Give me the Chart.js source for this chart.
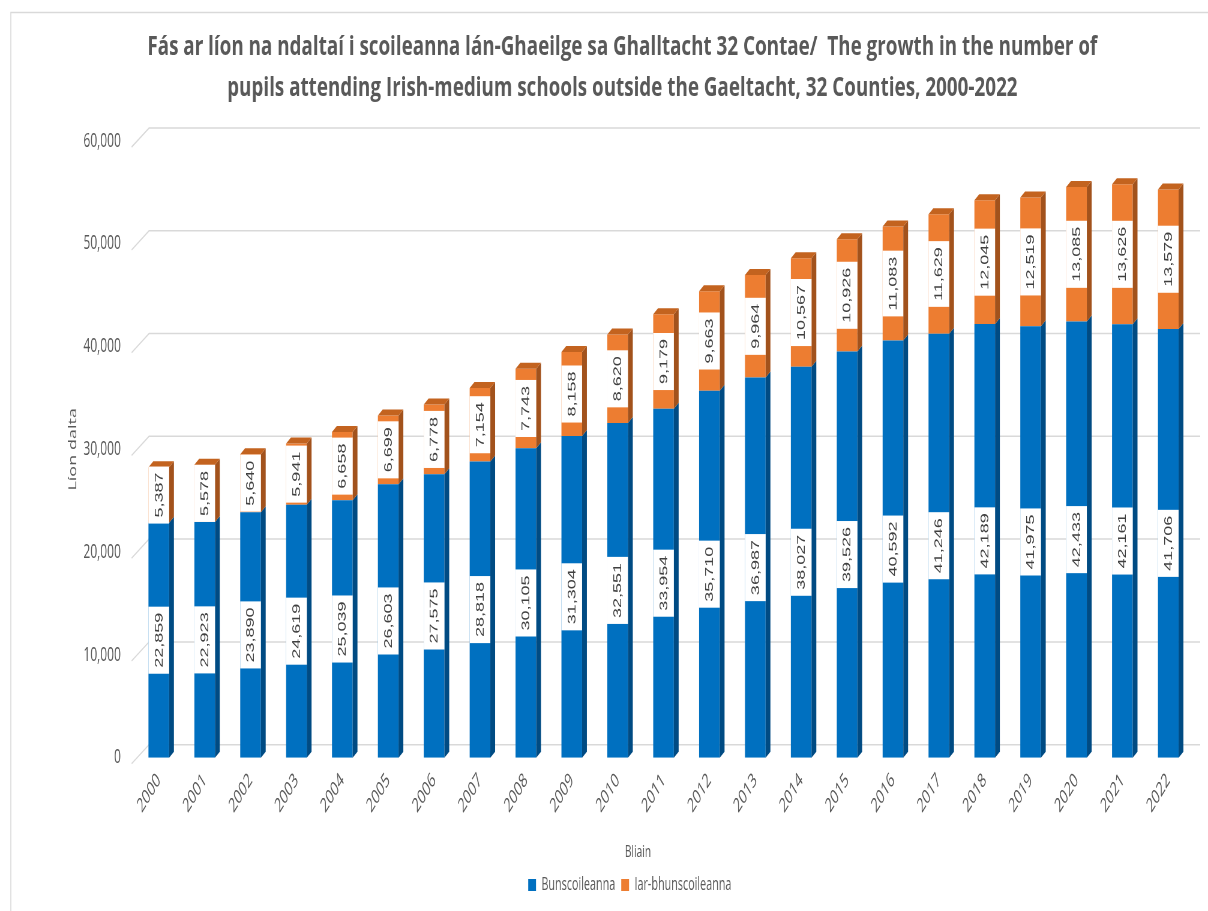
<!DOCTYPE html>
<html>
<head>
<meta charset="utf-8">
<script src="https://cdn.jsdelivr.net/npm/chart.js@4.4.0/dist/chart.umd.min.js"></script>
<style>
html, body { margin: 0; padding: 0; background: #fff; overflow: hidden; }
canvas { display: block; }
</style>
</head>
<body>
<canvas id="chart"></canvas>
<script>
var years = ['2000', '2001', '2002', '2003', '2004', '2005', '2006', '2007', '2008', '2009', '2010', '2011',
             '2012', '2013', '2014', '2015', '2016', '2017', '2018', '2019', '2020', '2021', '2022'];
var primary = [22859, 22923, 23890, 24619, 25039, 26603, 27575, 28818, 30105, 31304, 32551, 33954,
               35710, 36987, 38027, 39526, 40592, 41246, 42189, 41975, 42433, 42161, 41706];
var postPrimary = [5387, 5578, 5640, 5941, 6658, 6699, 6778, 7154, 7743, 8158, 8620, 9179,
                   9663, 9964, 10567, 10926, 11083, 11629, 12045, 12519, 13085, 13626, 13579];
var seriesNames = ['Bunscoileanna', 'Iar-bhunscoileanna'];
var yTicks = [0, 10000, 20000, 30000, 40000, 50000, 60000];
var titleLines = [
    'Fás ar líon na ndaltaí i scoileanna lán-Ghaeilge sa Ghalltacht 32 Contae/  The growth in the number of',
    'pupils attending Irish-medium schools outside the Gaeltacht, 32 Counties, 2000-2022'
];
var xTitle = 'Bliain';
var yTitle = 'Líon dalta';

var textGrey = '#595959';
var frontColors = ['#0070c0', '#ed7d31'];
var sideColors = ['#004b83', '#a2521c'];
var topColor = '#c3631f';

// the original picture is squashed sideways, so draw wide and shrink it with css
var squeeze = 0.6;
var canvas = document.getElementById('chart');
canvas.width = Math.round(1208 / squeeze);
canvas.height = 911;
canvas.style.width = '1208px';
canvas.style.height = '911px';

var depthX = 8, depthY = 6;

var framePlugin = {
    id: 'frame',
    beforeDraw: function(chart) {
        var ctx = chart.ctx;
        ctx.save();
        ctx.strokeStyle = '#d9d9d9';
        ctx.lineWidth = 1.6;
        ctx.beginPath();
        ctx.moveTo(18, chart.height);
        ctx.lineTo(18, 12.5);
        ctx.lineTo(chart.width, 12.5);
        ctx.stroke();
        ctx.restore();
    }
};

// gridlines sit on the back wall, a little up and to the right
var wallPlugin = {
    id: 'wall',
    beforeDatasetsDraw: function(chart) {
        var ctx = chart.ctx;
        var area = chart.chartArea;
        var yScale = chart.scales.y;
        ctx.save();
        ctx.strokeStyle = '#d9d9d9';
        ctx.lineWidth = 1.5;
        yTicks.forEach(function(v) {
            var py = yScale.getPixelForValue(v);
            ctx.beginPath();
            ctx.moveTo(area.left - 7, py + 6);
            ctx.lineTo(area.left + 22, py - 13);
            ctx.lineTo(area.right + 15, py - 13);
            ctx.stroke();
        });
        ctx.restore();
    }
};

var depthPlugin = {
    id: 'depth',
    afterDatasetsDraw: function(chart) {
        var ctx = chart.ctx;
        var last = chart.data.datasets.length - 1;
        ctx.save();
        chart.data.datasets.forEach(function(ds, di) {
            chart.getDatasetMeta(di).data.forEach(function(bar) {
                var p = bar.getProps(['x', 'y', 'base', 'width'], true);
                var l = p.x - p.width / 2, r = p.x + p.width / 2;
                ctx.fillStyle = sideColors[di];
                ctx.beginPath();
                ctx.moveTo(r, p.base);
                ctx.lineTo(r + depthX, p.base - depthY);
                ctx.lineTo(r + depthX, p.y - depthY);
                ctx.lineTo(r, p.y);
                ctx.closePath();
                ctx.fill();
                if (di === last) {
                    ctx.fillStyle = topColor;
                    ctx.beginPath();
                    ctx.moveTo(l, p.y);
                    ctx.lineTo(l + depthX, p.y - depthY);
                    ctx.lineTo(r + depthX, p.y - depthY);
                    ctx.lineTo(r, p.y);
                    ctx.closePath();
                    ctx.fill();
                }
            });
        });

        // value labels: white box, text turned on its side
        ctx.font = '18px "Liberation Sans", Arial, sans-serif';
        ctx.textAlign = 'center';
        ctx.textBaseline = 'middle';
        chart.data.datasets.forEach(function(ds, di) {
            chart.getDatasetMeta(di).data.forEach(function(bar, i) {
                var p = bar.getProps(['x', 'y', 'base', 'width'], true);
                var text = ds.data[i].toLocaleString('en-US');
                var len = ctx.measureText(text).width + 12;
                ctx.save();
                ctx.translate(p.x, (p.y + p.base) / 2);
                ctx.rotate(-Math.PI / 2);
                ctx.fillStyle = '#ffffff';
                ctx.fillRect(-len / 2, -p.width / 2, len, p.width);
                ctx.fillStyle = '#404040';
                ctx.fillText(text, 0, 1);
                ctx.restore();
            });
        });
        ctx.restore();
    }
};

var titlePlugin = {
    id: 'titles',
    afterDraw: function(chart) {
        var ctx = chart.ctx;
        var area = chart.chartArea;
        ctx.save();
        ctx.fillStyle = textGrey;
        ctx.textAlign = 'center';
        ctx.textBaseline = 'middle';

        ctx.font = 'bold 27px "Open Sans", sans-serif';
        var fit = 1583 / ctx.measureText(titleLines[0]).width;
        var rows = [47, 88];
        titleLines.forEach(function(line, i) {
            ctx.save();
            ctx.translate(1037, rows[i]);
            ctx.scale(fit, 1);
            ctx.fillText(line, 0, 0);
            ctx.restore();
        });

        ctx.font = '17px "Open Sans", sans-serif';
        ctx.fillText(xTitle, 1063, 852);

        ctx.font = '18px "Open Sans", sans-serif';
        ctx.translate(122, (area.top + area.bottom) / 2);
        ctx.rotate(-Math.PI / 2);
        ctx.fillText(yTitle, 0, 0);
        ctx.restore();
    }
};

var ctx = canvas.getContext('2d');
var chart = new Chart(ctx, {
    type: 'bar',
    data: {
        labels: years,
        datasets: [{
            label: seriesNames[0],
            data: primary,
            backgroundColor: frontColors[0],
            barPercentage: 0.45,
            categoryPercentage: 1
        }, {
            label: seriesNames[1],
            data: postPrimary,
            backgroundColor: frontColors[1],
            barPercentage: 0.45,
            categoryPercentage: 1
        }]
    },
    options: {
        responsive: false,
        animation: false,
        devicePixelRatio: 1,
        layout: { padding: { top: 141, left: 114, right: 28, bottom: 7 } },
        scales: {
            x: {
                stacked: true,
                grid: { display: false, drawTicks: false },
                border: { display: false },
                // leave room under the year labels for the axis name
                afterFit: function(scale) { scale.height += 37; },
                ticks: {
                    autoSkip: false,
                    minRotation: 45,
                    maxRotation: 45,
                    padding: 11,
                    color: textGrey,
                    font: { family: 'Open Sans', size: 20 }
                }
            },
            y: {
                stacked: true,
                min: 0,
                max: 60000,
                grid: { display: false, drawTicks: false },
                border: { display: false },
                afterBuildTicks: function(axis) {
                    axis.ticks = yTicks.map(function(v) { return { value: v }; });
                },
                ticks: {
                    padding: 25,
                    color: textGrey,
                    font: { family: 'Open Sans', size: 20 },
                    callback: function(v) { return Number(v).toLocaleString('en-US'); }
                }
            }
        },
        plugins: {
            legend: {
                position: 'bottom',
                labels: {
                    boxWidth: 13,
                    boxHeight: 12,
                    padding: 10,
                    color: textGrey,
                    font: { family: 'Open Sans', size: 18 }
                }
            },
            tooltip: { enabled: false }
        }
    },
    plugins: [framePlugin, wallPlugin, depthPlugin, titlePlugin]
});
</script>
</body>
</html>
